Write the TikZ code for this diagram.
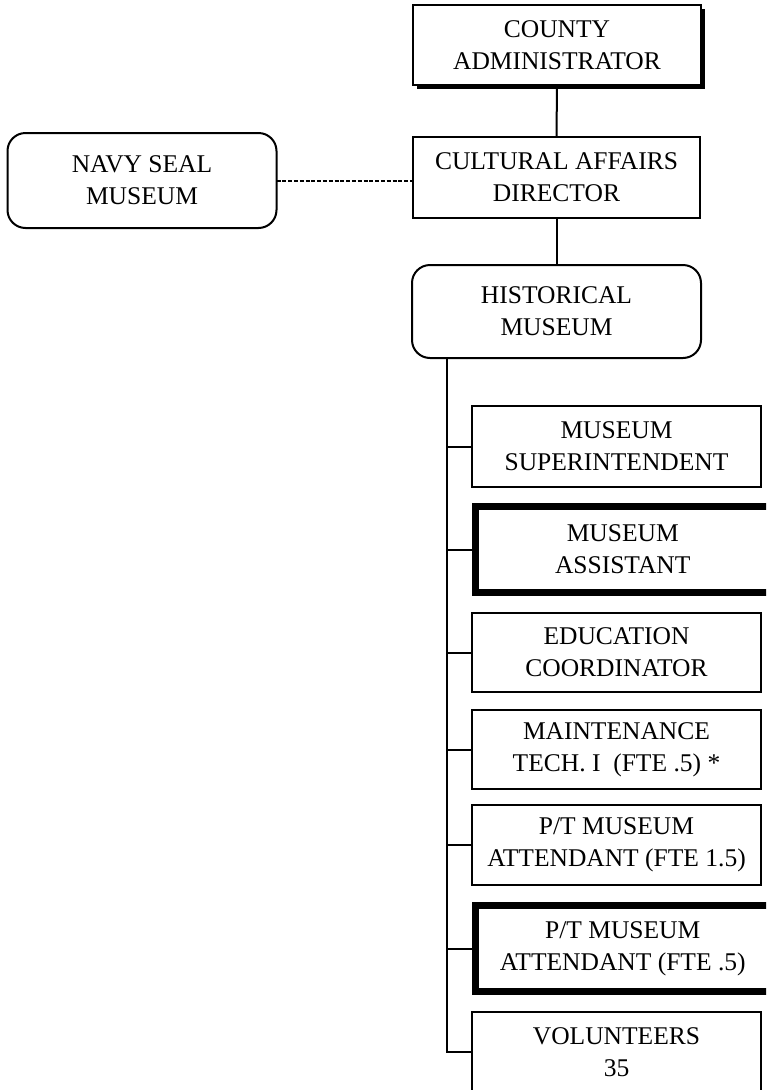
\documentclass[tikz,border=0pt]{standalone}
\usepackage{fontspec}
\setmainfont{Liberation Serif}
\usetikzlibrary{shadows}
\begin{document}
\begin{tikzpicture}[x=1pt,y=-1pt,
  every node/.style={font=\fontsize{25.5}{32}\selectfont, align=center, inner sep=0pt, outer sep=0pt},
  unit/.style={draw, fill=white, line width=2pt},
  keyunit/.style={unit, line width=7pt},
  roundunit/.style={unit, rounded corners=18pt},
  topunit/.style={unit, drop shadow={shadow xshift=4pt, shadow yshift=-4pt, opacity=1, fill=black}},
  link/.style={line width=2pt},
  dotted link/.style={line width=2pt, dash pattern=on 4pt off 1.8pt}]
\useasboundingbox (0,0) rectangle (766,1090);
\clip (0,0) rectangle (766,1090);
\fill[white] (0,0) rectangle (766,1090);

% upper chain
\node[topunit, minimum width=288pt, minimum height=80pt] (ca) at (557,45) {COUNTY\\ADMINISTRATOR};
\node[unit, minimum width=287pt, minimum height=81pt] (cad) at (556.5,177.5) {CULTURAL AFFAIRS\\DIRECTOR};
\node[roundunit, minimum width=269pt, minimum height=95pt] (nsm) at (142,180.5) {NAVY SEAL\\MUSEUM};
\node[roundunit, minimum width=289pt, minimum height=93pt] (hm) at (556.5,311.5) {HISTORICAL\\MUSEUM};

% staff positions
\node[unit, minimum width=289pt, minimum height=81pt] (sup) at (616.5,446.5) {MUSEUM\\SUPERINTENDENT};
\node[keyunit, minimum width=294.5pt, minimum height=86pt] (asst) at (622.75,549.5) {MUSEUM\\ASSISTANT};
\node[unit, minimum width=289pt, minimum height=79pt] (edu) at (616.5,652.5) {EDUCATION\\COORDINATOR};
\node[unit, minimum width=289pt, minimum height=79pt] (mnt) at (616.5,749.5) {MAINTENANCE\\TECH.\ I\ \ (FTE .5) *};
\node[unit, minimum width=289pt, minimum height=80pt] (pt1) at (616.5,845) {P/T MUSEUM\\ATTENDANT (FTE 1.5)};
\node[keyunit, minimum width=294.5pt, minimum height=86pt] (pt5) at (622.75,948.5) {P/T MUSEUM\\ATTENDANT (FTE .5)};
\node[unit, minimum width=289pt, minimum height=80pt] (vol) at (616.5,1052) {VOLUNTEERS\\35};

% reporting lines
\draw[link] (ca.south) -- (cad.north);
\draw[link] (cad.south) -- (hm.north);
\draw[dotted link] (nsm.east) -- (cad.west |- nsm.east);
\coordinate (t) at (447,358);
\foreach \n in {sup,asst,edu,mnt,pt1,pt5,vol}{
  \draw[link] (t) |- (\n.west);
}
\end{tikzpicture}
\end{document}
